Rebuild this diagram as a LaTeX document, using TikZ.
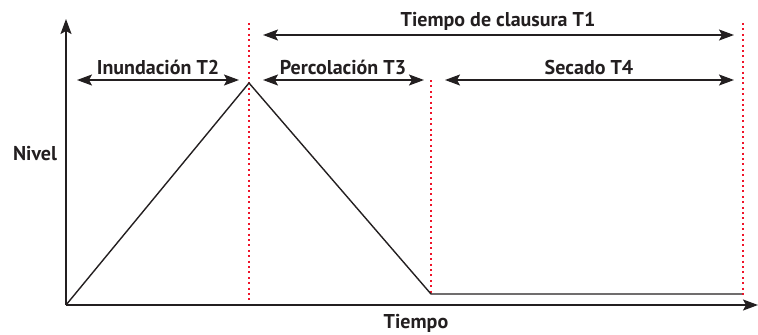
\documentclass[tikz,border=0pt]{standalone}
\usepackage{fontspec}
\setmainfont{PT Sans}
\usetikzlibrary{arrows.meta}
\definecolor{ink}{HTML}{231F20}
\definecolor{dotred}{HTML}{F0142A}
\tikzset{
  axis/.style={draw=ink, line width=1.7bp, -{Stealth[length=15bp,width=11bp,inset=3bp]}},
  curve/.style={draw=ink, line width=1.4bp, line join=miter},
  span/.style={draw=ink, line width=1.4bp, {Stealth[length=15bp,width=11bp,inset=3bp]}-{Stealth[length=15bp,width=11bp,inset=3bp]}},
  limit/.style={draw=dotred, line width=2bp, dash pattern=on 2bp off 3.4bp},
  lbl/.style={text=ink, font=\fontsize{20bp}{22bp}\selectfont\bfseries, inner sep=0pt}
}
\begin{document}
\begin{tikzpicture}[x=1bp,y=-1bp]
\useasboundingbox (0,0) rectangle (758,334);
% key points
\coordinate (O) at (66,305);
\coordinate (Ytop) at (66,19);
\coordinate (Xend) at (758,305);
\coordinate (P) at (249,83);
\coordinate (Q) at (431,294);
\coordinate (R) at (742,294);
% red limits
\coordinate (L1a) at (249,23); \coordinate (L1b) at (249,300);
\coordinate (L2a) at (431,80); \coordinate (L2b) at (431,295);
\coordinate (L3a) at (743,23); \coordinate (L3b) at (743,297);
\draw[limit] (L1a) -- (L1b);
\draw[limit] (L2a) -- (L2b);
\draw[limit] (L3a) -- (L3b);
% axes
\draw[axis] (O) -- (Ytop);
\draw[axis] (O) -- (Xend);
% level curve
\draw[curve] (O) -- (P) -- (Q) -- (R);
% spans
\coordinate (T1a) at (263,35); \coordinate (T1b) at (734,35);
\coordinate (T2a) at (77,80);  \coordinate (T2b) at (239,80);
\coordinate (T3a) at (263,80); \coordinate (T3b) at (424,80);
\coordinate (T4a) at (445,80); \coordinate (T4b) at (734,80);
\draw[span] (T1a) -- (T1b);
\draw[span] (T2a) -- (T2b);
\draw[span] (T3a) -- (T3b);
\draw[span] (T4a) -- (T4b);
% labels
\node[lbl, anchor=base] (t1) at (498,26) {Tiempo de clausura T1};
\node[lbl, anchor=base] (t2) at (158,74) {Inundación T2};
\node[lbl, anchor=base] (t3) at (343,74) {Percolación T3};
\node[lbl, anchor=base] (t4) at (589,74) {Secado T4};
\node[lbl, anchor=base] (nv) at (35,160) {Nivel};
\node[lbl, anchor=base] (tp) at (416,328) {Tiempo};
\end{tikzpicture}
\end{document}
